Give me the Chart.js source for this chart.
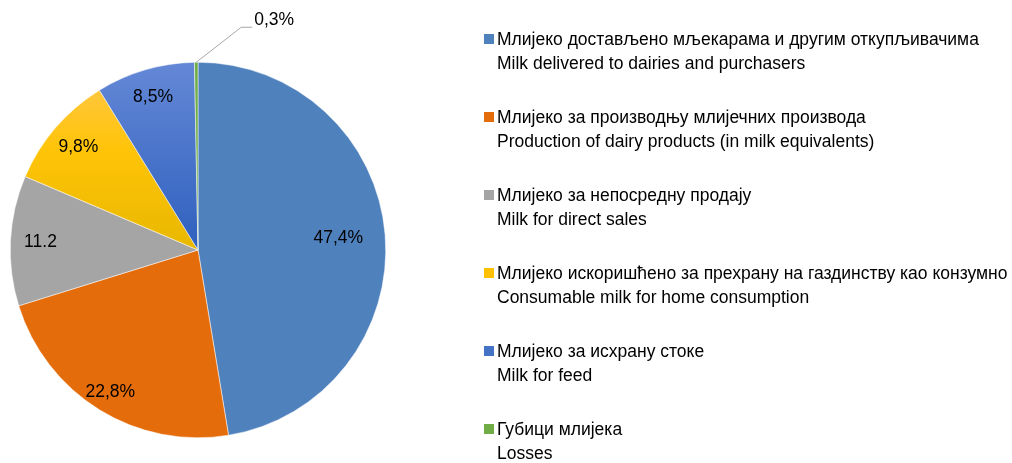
<!DOCTYPE html>
<html>
<head>
<meta charset="utf-8">
<script src="https://cdn.jsdelivr.net/npm/chart.js@4.4.1/dist/chart.umd.min.js"></script>
<style>
    html, body { margin: 0; padding: 0; background: #fff; }
    #wrap { position: relative; width: 1012px; height: 463px; overflow: hidden; }
    #chart { position: absolute; left: 0; top: 0; }
    #legend {
        position: absolute; left: 484px; top: 27px;
        font-family: "Liberation Sans", Arial, sans-serif;
        font-size: 17.5px; color: #000;
    }
    .item { position: relative; height: 78px; padding-left: 13px; line-height: 24px; white-space: nowrap; }
    .box { position: absolute; left: 0; top: 7px; width: 10px; height: 10px; }
</style>
</head>
<body>
<div id="wrap">
    <canvas id="chart" width="1012" height="463"></canvas>
    <div id="legend"></div>
</div>
<script>
// Data
const labelsSr = [
    'Млијеко достављено мљекарама и другим откупљивачима',
    'Млијеко за производњу млијечних производа',
    'Млијеко за непосредну продају',
    'Млијеко искоришћено за прехрану на газдинству као конзумно',
    'Млијеко за исхрану стоке',
    'Губици млијека'
];
const labelsEn = [
    'Milk delivered to dairies and purchasers',
    'Production of dairy products (in milk equivalents)',
    'Milk for direct sales',
    'Consumable milk for home consumption',
    'Milk for feed',
    'Losses'
];
const shares = [47.4, 22.8, 11.2, 9.8, 8.5, 0.3];
const valueLabels = ['47,4%', '22,8%', '11.2', '9,8%', '8,5%', '0,3%'];

const colors = ['#4f81bd', '#e46c0a', '#a5a5a5', '#ffc000', '#4472c4', '#70ad47'];
// where each value label sits, as a fraction of the radius
const labelRadius = [0.75, 0.89, 0.84, 0.84, 0.85, 0];

const labelFont = '17.5px "Liberation Sans", Arial, sans-serif';

// Build the HTML legend
const legendEl = document.getElementById('legend');
labelsSr.forEach((sr, i) => {
    const div = document.createElement('div');
    div.className = 'item';
    div.innerHTML = '<span class="box" style="background:' + colors[i] + '"></span>' +
        sr + '<br>' + labelsEn[i];
    legendEl.appendChild(div);
});

function sliceFill(context) {
    const chart = context.chart;
    const area = chart.chartArea;
    const i = context.dataIndex;
    if (!area) return colors[i];
    const ctx = chart.ctx;
    if (i === 3) {
        const g = ctx.createLinearGradient(0, area.top + 20, 0, area.top + area.height / 2);
        g.addColorStop(0, '#ffc742');
        g.addColorStop(0.4, '#ffc408');
        g.addColorStop(1, '#e8b800');
        return g;
    }
    if (i === 4) {
        const g = ctx.createLinearGradient(0, area.top, 0, area.top + area.height / 2);
        g.addColorStop(0, '#6488d6');
        g.addColorStop(1, '#2f60be');
        return g;
    }
    return colors[i];
}

// Value labels and the leader line for the small slice
const valueLabelPlugin = {
    id: 'valueLabels',
    afterDatasetsDraw(chart) {
        const ctx = chart.ctx;
        const meta = chart.getDatasetMeta(0);
        ctx.save();
        ctx.font = labelFont;
        ctx.fillStyle = '#000';
        ctx.textAlign = 'center';
        ctx.textBaseline = 'middle';
        meta.data.forEach((arc, i) => {
            const p = arc.getProps(['x', 'y', 'startAngle', 'endAngle', 'outerRadius'], true);
            const mid = (p.startAngle + p.endAngle) / 2;
            if (i === shares.length - 1) {
                // leader line outside the pie
                const sx = p.x + Math.cos(mid) * p.outerRadius;
                const sy = p.y + Math.sin(mid) * p.outerRadius;
                const ex = sx + 45, ey = sy - 35;
                ctx.strokeStyle = '#a6a6a6';
                ctx.lineWidth = 1;
                ctx.beginPath();
                ctx.moveTo(sx, sy);
                ctx.lineTo(ex, ey);
                ctx.lineTo(ex + 11, ey);
                ctx.stroke();
                ctx.textAlign = 'left';
                ctx.fillText(valueLabels[i], ex + 13, ey - 7);
                ctx.textAlign = 'center';
                return;
            }
            const r = p.outerRadius * labelRadius[i];
            ctx.fillText(valueLabels[i], p.x + Math.cos(mid) * r, p.y + Math.sin(mid) * r);
        });
        ctx.restore();
    }
};

const ctx = document.getElementById('chart').getContext('2d');
new Chart(ctx, {
    type: 'pie',
    data: {
        labels: labelsEn,
        datasets: [{
            data: shares,
            backgroundColor: sliceFill,
            borderColor: '#ffffff',
            borderWidth: 0.5
        }]
    },
    options: {
        responsive: false,
        animation: false,
        layout: {
            padding: { top: 62, bottom: 25, left: 10, right: 626 }
        },
        plugins: {
            legend: { display: false },
            tooltip: { enabled: false }
        }
    },
    plugins: [valueLabelPlugin]
});
</script>
</body>
</html>
